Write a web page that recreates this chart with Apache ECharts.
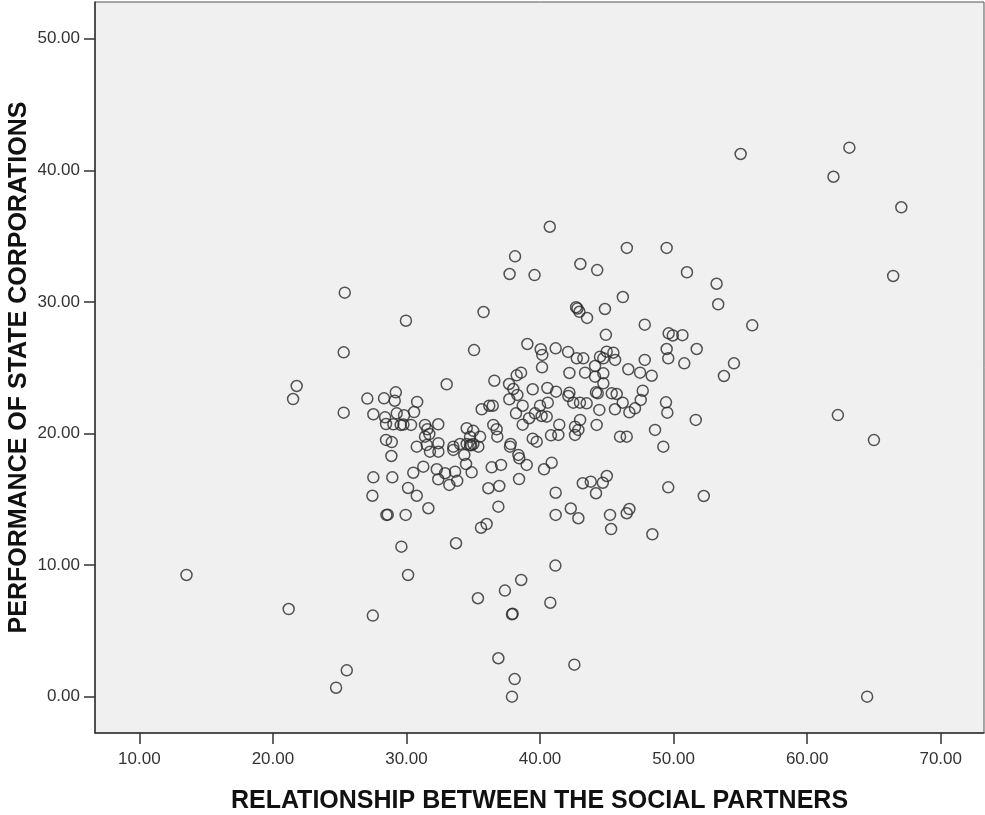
<!DOCTYPE html>
<html>
<head>
<meta charset="utf-8">
<script src="https://cdn.jsdelivr.net/npm/echarts@6/dist/echarts.min.js"></script>
<style>
  html, body { margin: 0; padding: 0; background: #ffffff; }
  #chart { width: 985px; height: 815px; }
</style>
</head>
<body>
<div id="chart"></div>
<script>
// Axis titles and tick values
const xTitle = 'RELATIONSHIP BETWEEN THE SOCIAL PARTNERS';
const yTitle = 'PERFORMANCE OF STATE CORPORATIONS';
const xTicks = [10, 20, 30, 40, 50, 60, 70];
const yTicks = [0, 10, 20, 30, 40, 50];

// Scores per respondent: social partners relationship (x) vs. state corporation performance (y)
const upperPoints = [
  [55.02, 41.24], [63.16, 41.72], [61.97, 39.51], [67.05, 37.19], [40.73, 35.71],
  [46.50, 34.10], [49.48, 34.10], [38.13, 33.46], [43.02, 32.88], [44.28, 32.42],
  [37.72, 32.12], [39.59, 32.04], [51.00, 32.25], [53.22, 31.38], [66.44, 31.97],
  [25.38, 30.70], [46.20, 30.37], [53.34, 29.82], [35.77, 29.23], [42.70, 29.60],
  [42.80, 29.50], [42.95, 29.25], [43.52, 28.78], [44.86, 29.46], [29.96, 28.57],
  [47.84, 28.27], [55.89, 28.22], [44.93, 27.50], [49.63, 27.61], [49.94, 27.45],
  [50.66, 27.47]
];

const centerPoints = [
  [39.05, 26.80], [35.06, 26.34], [40.05, 26.40], [40.17, 25.97], [41.17, 26.47],
  [42.10, 26.20], [40.15, 25.03], [42.20, 24.60], [38.58, 24.62], [38.25, 24.42],
  [33.01, 23.74], [36.58, 24.01], [37.68, 23.76], [38.00, 23.38], [38.30, 22.93],
  [37.70, 22.60], [39.45, 23.36], [40.55, 23.46], [41.20, 23.18], [42.20, 23.10],
  [42.12, 22.85], [40.58, 22.34], [40.00, 22.11], [38.70, 22.11], [38.20, 21.53],
  [39.62, 21.53], [40.12, 21.33], [40.50, 21.28], [39.18, 21.16], [38.70, 20.67],
  [41.44, 20.67], [40.82, 19.86], [41.37, 19.89], [39.45, 19.61], [39.75, 19.38],
  [37.80, 19.20], [35.63, 21.84], [36.20, 22.11], [36.46, 22.11], [36.50, 20.65],
  [36.75, 20.32], [36.80, 19.76], [32.38, 20.70], [31.39, 20.65], [31.56, 20.32],
  [31.71, 19.96], [31.39, 19.76], [30.80, 22.40]
];

const rightPoints = [
  [51.73, 26.42], [49.48, 26.42], [49.60, 25.71], [50.80, 25.33], [53.77, 24.37],
  [54.52, 25.33], [47.84, 25.59], [46.61, 24.88], [47.49, 24.62], [48.36, 24.39],
  [47.69, 23.25], [47.54, 22.55], [47.11, 21.91], [46.69, 21.61], [46.19, 22.34],
  [45.37, 23.05], [45.74, 23.00], [44.19, 23.13], [44.32, 23.05], [44.44, 21.79],
  [45.61, 21.84], [44.24, 20.65], [45.99, 19.76], [46.49, 19.76], [48.61, 20.27],
  [49.43, 22.37], [49.53, 21.58], [51.66, 21.03], [49.23, 19.00], [42.75, 25.71],
  [43.24, 25.71], [44.49, 25.84], [44.99, 26.22], [45.49, 26.14], [44.74, 25.71],
  [45.62, 25.59], [43.37, 24.62], [44.12, 25.13], [44.12, 24.32], [44.74, 24.57],
  [44.74, 23.81], [42.49, 22.34], [42.99, 22.34], [43.49, 22.29], [43.00, 21.03],
  [42.62, 20.52], [42.62, 19.89], [42.87, 20.27], [62.30, 21.40], [65.00, 19.50]
];

const leftPoints = [
  [25.30, 26.17], [21.78, 23.61], [21.51, 22.62], [25.30, 21.58], [27.07, 22.65],
  [28.32, 22.67], [29.20, 23.13], [29.12, 22.49], [27.52, 21.46], [28.40, 21.23],
  [29.27, 21.53], [29.82, 21.38], [30.57, 21.63], [28.47, 20.72], [29.02, 20.70],
  [29.57, 20.65], [29.77, 20.68], [30.34, 20.65], [28.47, 19.51], [28.90, 19.35],
  [30.77, 19.00], [28.87, 18.29], [27.52, 16.67], [28.94, 16.67], [30.51, 17.02],
  [30.12, 15.86], [30.77, 15.27], [27.45, 15.27], [28.50, 13.81], [28.60, 13.83],
  [29.94, 13.81], [29.62, 11.40]
];

const clusterPoints = [
  [34.51, 20.40], [34.76, 19.76], [35.51, 19.76], [34.51, 19.20], [35.01, 19.20],
  [34.01, 19.20], [33.51, 19.00], [34.76, 19.13], [34.85, 19.10], [35.38, 19.00],
  [34.33, 18.37], [33.51, 18.75], [31.52, 19.13], [32.39, 19.26], [32.39, 18.62],
  [31.76, 18.62], [35.00, 20.20]
];

const lowerPoints = [
  [37.75, 19.00], [38.38, 18.37], [39.00, 17.61], [38.45, 18.11], [31.26, 17.48],
  [32.27, 17.28], [32.89, 16.98], [33.64, 17.10], [32.38, 16.52], [33.21, 16.09],
  [33.80, 16.40], [34.88, 17.05], [34.46, 17.68], [36.38, 17.43], [37.08, 17.61],
  [38.43, 16.54], [40.30, 17.28], [40.87, 17.78], [41.17, 15.50], [36.13, 15.84],
  [36.95, 16.01], [36.88, 14.44], [31.64, 14.32], [35.58, 12.84], [36.00, 13.12],
  [33.71, 11.66], [41.17, 13.81], [42.30, 14.30],
  [49.60, 15.91], [52.26, 15.25], [43.20, 16.22], [43.80, 16.34], [44.70, 16.26],
  [45.00, 16.77], [44.19, 15.46], [42.87, 13.56], [45.24, 13.81], [45.32, 12.74],
  [46.49, 13.94], [46.69, 14.26], [48.41, 12.34]
];

const bottomPoints = [
  [13.53, 9.25], [30.12, 9.25], [41.15, 9.96], [38.59, 8.87], [37.37, 8.06],
  [35.35, 7.48], [40.77, 7.14], [21.18, 6.66], [27.48, 6.16], [37.90, 6.26],
  [37.95, 6.30], [36.88, 2.92], [42.57, 2.43], [25.53, 2.00], [24.73, 0.68],
  [38.10, 1.34], [37.90, 0.00], [64.49, 0.00]
];

const allPoints = [].concat(upperPoints, centerPoints, rightPoints, leftPoints,
  clusterPoints, lowerPoints, bottomPoints);

const font = '"Liberation Sans", Arial, sans-serif';
const chart = echarts.init(document.getElementById('chart'), null, { renderer: 'canvas' });

chart.setOption({
  animation: false,
  backgroundColor: '#ffffff',
  grid: {
    left: 95, right: 1, top: 2, bottom: 82,
    outerBoundsMode: 'none',
    containLabel: false,
    show: true,
    backgroundColor: '#f0f0f0',
    borderColor: '#555555',
    borderWidth: 1
  },
  xAxis: {
    type: 'value',
    min: 6.68,
    max: 73.24,
    name: xTitle,
    nameLocation: 'middle',
    nameGap: 56,
    nameMoveOverlap: false,
    nameTextStyle: { fontFamily: font, fontWeight: 'bold', fontSize: 25, color: '#111111' },
    axisLine: { show: true, onZero: false, lineStyle: { color: '#333333', width: 1.5 } },
    axisTick: { show: true, customValues: xTicks, length: 11, lineStyle: { color: '#333333', width: 1.5 } },
    axisLabel: {
      customValues: xTicks,
      margin: 18,
      fontFamily: font, fontSize: 17, color: '#333333',
      formatter: v => v.toFixed(2)
    },
    splitLine: { show: false }
  },
  yAxis: {
    type: 'value',
    min: -2.76,
    max: 52.79,
    name: yTitle,
    nameLocation: 'middle',
    nameGap: 63,
    nameMoveOverlap: false,
    nameTextStyle: { fontFamily: font, fontWeight: 'bold', fontSize: 25, color: '#111111' },
    axisLine: { show: true, onZero: false, lineStyle: { color: '#333333', width: 1.5 } },
    axisTick: { show: true, customValues: yTicks, length: 11, lineStyle: { color: '#333333', width: 1.5 } },
    axisLabel: {
      customValues: yTicks,
      margin: 15,
      fontFamily: font, fontSize: 17, color: '#333333',
      formatter: v => v.toFixed(2)
    },
    splitLine: { show: false }
  },
  series: [{
    type: 'scatter',
    data: allPoints,
    symbol: 'circle',
    symbolSize: 11,
    itemStyle: {
      color: 'rgba(0,0,0,0)',
      borderColor: '#2b2b2b',
      borderWidth: 1.5
    },
    emphasis: { disabled: true }
  }]
});
</script>
</body>
</html>
